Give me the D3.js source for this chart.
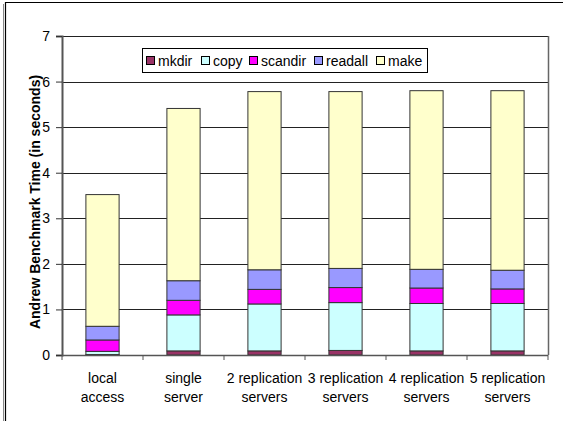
<!DOCTYPE html>
<html>
<head>
<meta charset="utf-8">
<script src="https://cdn.jsdelivr.net/npm/d3@7/dist/d3.min.js"></script>
<style>
  html, body { margin: 0; padding: 0; background: #fff; }
  svg { display: block; font-family: "Liberation Sans", Arial, sans-serif; }
</style>
</head>
<body>
<svg id="chart" width="563" height="421"></svg>
<script>
// Configurations benchmarked
const categories = [
  ["local", "access"],
  ["single", "server"],
  ["2 replication", "servers"],
  ["3 replication", "servers"],
  ["4 replication", "servers"],
  ["5 replication", "servers"]
];

// Phase durations in seconds, one value per configuration
const mkdir   = [0.01, 0.09, 0.09, 0.10, 0.09, 0.09];
const copy    = [0.07, 0.79, 1.03, 1.05, 1.04, 1.04];
const scandir = [0.25, 0.32, 0.32, 0.33, 0.34, 0.32];
const readall = [0.30, 0.43, 0.43, 0.42, 0.41, 0.41];
const make    = [2.89, 3.78, 3.91, 3.88, 3.92, 3.94];

const seriesNames = ["mkdir", "copy", "scandir", "readall", "make"];
const seriesColors = ["#993366", "#CCFFFF", "#FF00FF", "#9999FF", "#FFFFCC"];
const yTicks = [0, 1, 2, 3, 4, 5, 6, 7];

const rows = categories.map((c, i) => ({
  key: i,
  mkdir: mkdir[i], copy: copy[i], scandir: scandir[i], readall: readall[i], make: make[i]
}));

const svg = d3.select("#chart");
const plot = { left: 62, right: 548, top: 36, bottom: 355 };
const fontSize = 14;

// Outer frame (top and left edges)
svg.append("path")
  .attr("d", "M5.5,421 L5.5,2.5 L563,2.5")
  .attr("fill", "none").attr("stroke", "#000").attr("stroke-width", 1.2);
svg.append("line").attr("x1", 3.5).attr("x2", 3.5).attr("y1", 4).attr("y2", 421)
  .attr("stroke", "#888").attr("stroke-width", 1);

const x = d3.scaleBand().domain(d3.range(categories.length))
  .range([plot.left, plot.right]).paddingInner(0.59).paddingOuter(0.295);
const y = d3.scaleLinear().domain([0, 7]).range([plot.bottom, plot.top]);

// Horizontal gridlines
svg.append("g").selectAll("line").data(yTicks.filter(t => t > 0)).join("line")
  .attr("x1", plot.left).attr("x2", plot.right)
  .attr("y1", d => Math.round(y(d)) + 0.5).attr("y2", d => Math.round(y(d)) + 0.5)
  .attr("stroke", "#222").attr("stroke-width", 1);

// Right border of the plot area
svg.append("line").attr("x1", plot.right + 0.5).attr("x2", plot.right + 0.5)
  .attr("y1", plot.top).attr("y2", plot.bottom)
  .attr("stroke", "#666").attr("stroke-width", 1.5);

// Stacked bars
const stack = d3.stack().keys(seriesNames);
const layers = stack(rows);
svg.append("g").selectAll("g").data(layers).join("g")
  .attr("fill", (d, i) => seriesColors[i])
  .selectAll("rect").data(d => d).join("rect")
  .attr("x", (d, i) => x(i))
  .attr("width", x.bandwidth())
  .attr("y", d => y(d[1]))
  .attr("height", d => Math.max(0, y(d[0]) - y(d[1])))
  .attr("stroke", "#333").attr("stroke-width", 1);

// Y axis
const yAxis = d3.axisLeft(y).tickValues(yTicks).tickSize(6).tickFormat(d3.format("d"));
const gy = svg.append("g").attr("transform", `translate(${plot.left},0)`).call(yAxis);
gy.select(".domain").attr("stroke", "#555").attr("stroke-width", 2);
gy.selectAll(".tick line").attr("stroke", "#333");
gy.selectAll(".tick text").attr("font-size", fontSize).attr("fill", "#000")
  .attr("font-family", "Liberation Sans, Arial, sans-serif").attr("x", -12);

// X axis baseline with separators between categories
const gx = svg.append("g");
gx.append("line").attr("x1", plot.left).attr("x2", plot.right)
  .attr("y1", plot.bottom + 0.5).attr("y2", plot.bottom + 0.5)
  .attr("stroke", "#555").attr("stroke-width", 1.5);
const step = x.step();
gx.selectAll("line.sep").data(d3.range(categories.length + 1)).join("line")
  .attr("class", "sep")
  .attr("x1", d => plot.left + d * step).attr("x2", d => plot.left + d * step)
  .attr("y1", plot.bottom).attr("y2", plot.bottom + 5)
  .attr("stroke", "#555");

// Category labels
const lbl = svg.append("g").selectAll("text").data(categories).join("text")
  .attr("x", (d, i) => x(i) + x.bandwidth() / 2)
  .attr("y", 383)
  .attr("text-anchor", "middle").attr("font-size", fontSize).attr("fill", "#000");
lbl.selectAll("tspan").data(d => d).join("tspan")
  .attr("x", function () { return d3.select(this.parentNode).attr("x"); })
  .attr("dy", (d, i) => i === 0 ? 0 : 19)
  .text(d => d);

// Y axis title
svg.append("text")
  .attr("transform", "translate(40,202) rotate(-90)")
  .attr("text-anchor", "middle").attr("font-size", fontSize).attr("font-weight", "bold")
  .text("Andrew Benchmark Time (in seconds)");

// Legend
const legend = svg.append("g");
legend.append("rect").attr("x", 142.5).attr("y", 48.5).attr("width", 285).attr("height", 24)
  .attr("fill", "#fff").attr("stroke", "#000");
const legendX = [146, 201, 249, 314, 376];
const items = legend.selectAll("g.item").data(seriesNames).join("g").attr("class", "item")
  .attr("transform", (d, i) => `translate(${legendX[i]},0)`);
items.append("rect").attr("x", 0.5).attr("y", 56.5).attr("width", 8).attr("height", 8)
  .attr("fill", (d, i) => seriesColors[i]).attr("stroke", "#000");
items.append("text").attr("x", 12).attr("y", 66).attr("font-size", fontSize).text(d => d);
</script>
</body>
</html>
